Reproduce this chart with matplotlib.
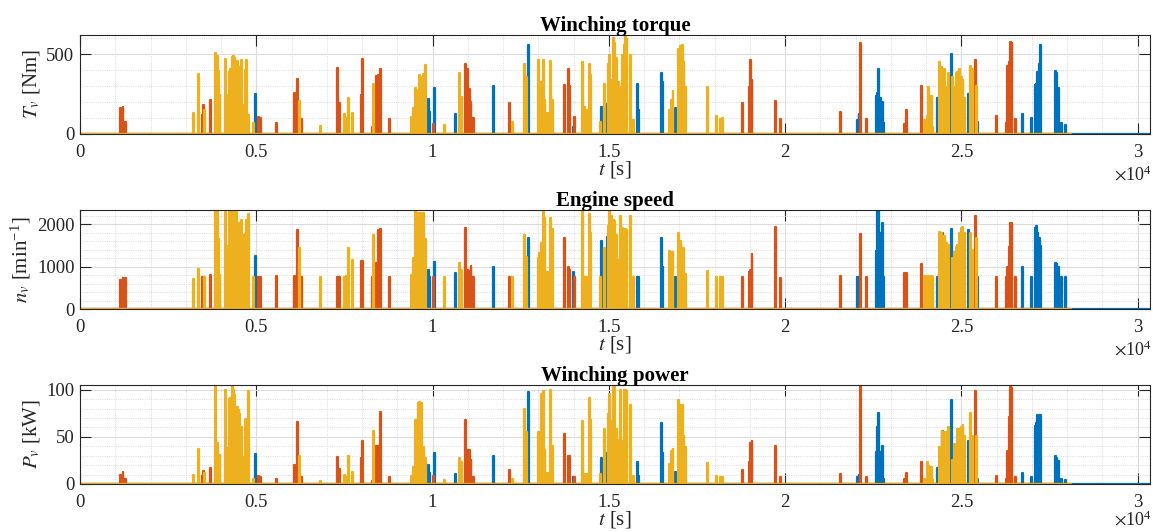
import numpy as np
import matplotlib
matplotlib.use('Agg')
import matplotlib.pyplot as plt
from matplotlib.ticker import MultipleLocator, FuncFormatter

plt.rcParams['font.family'] = 'serif'
plt.rcParams['font.serif'] = ['Liberation Serif', 'DejaVu Serif']
plt.rcParams['mathtext.fontset'] = 'stix'

# --- data: spike time [s] and peak value per panel ---
# torque T [Nm], engine speed n [1/min], power P [kW]

t_blue = [4970, 9875, 9923, 10065, 10660, 11720, 12715, 13990, 14790, 14960,
          15810, 15850, 16490, 16535, 16890, 22050, 22095, 22585, 22625, 22660,
          22700, 22750, 22795, 24310, 24475, 24725, 25205, 25470, 26745, 27000,
          27090, 27130, 27170, 27210, 27250, 27670, 27710, 27755, 27840, 27955]
T_blue = [248, 217, 140, 285, 123, 300, 560, 46, 171, 185,
          316, 150, 379, 327, 165, 87, 123, 237, 258, 404,
          223, 198, 71, 223, 300, 498, 248, 77, 123, 98,
          306, 316, 390, 441, 556, 394, 379, 285, 71, 56]
n_blue = [1247, 929, 754, 1112, 857, 993, 1667, 873, 1604, 1683,
          754, 754, 1667, 993, 754, 754, 754, 1366, 2318, 2318,
          1786, 2025, 754, 754, 1794, 1890, 1866, 754, 993, 754,
          1906, 1945, 1786, 1667, 1485, 1088, 1056, 993, 754, 754]
P_blue = [32, 20, 12, 32.6, 10.6, 30, 97.5, 7, 28, 32.6,
          23.8, 8.9, 64.5, 32.6, 12.4, 7, 9.6, 33.7, 60, 75,
          33.7, 40.8, 5.3, 16.7, 56.7, 89.4, 46, 5.3, 11.3, 7,
          61, 64.5, 73.4, 72.7, 72.7, 30, 27.3, 24.8, 5.3, 4.6]

t_orange = [1160, 1220, 1280, 3470, 3515, 3695, 5075, 5112, 5575, 6095,
            6160, 6285, 7296, 7352, 7985, 8013, 8296, 8420, 8468, 8515,
            8770, 10020, 10945, 10990, 11040, 11090, 11150, 12190, 13750, 13845,
            13895, 14035, 18780, 18980, 19015, 19060, 19730, 19875, 21580, 22140,
            22320, 23390, 23440, 23880, 25405, 25990, 26275, 26320, 26370, 26400,
            26435, 26530]
T_orange = [160, 167, 73, 120, 180, 212, 108, 98, 71, 254,
            342, 94, 415, 192, 244, 469, 46, 362, 369, 404,
            92, 60, 437, 406, 279, 200, 102, 192, 306, 406,
            300, 108, 192, 296, 462, 337, 206, 94, 140, 567,
            92, 60, 150, 300, 466, 115, 67, 427, 452, 577,
            573, 92]
n_orange = [690, 740, 740, 755, 755, 810, 754, 754, 778, 770,
            1850, 754, 754, 754, 1135, 1135, 754, 1088, 1850, 1882,
            754, 754, 1906, 913, 897, 1008, 754, 754, 1667, 977,
            929, 754, 754, 873, 913, 1294, 1922, 738, 770, 1763,
            754, 850, 850, 1048, 2199, 754, 754, 993, 1469, 2025,
            2025, 754]
P_orange = [10, 12.4, 5.3, 8.9, 13.5, 16.7, 8.9, 7.8, 5.3, 20,
            65.6, 7, 29, 16, 28, 46, 3.5, 40.8, 40.8, 76,
            7, 8, 68, 36, 36, 25, 7.8, 14.9, 53, 30,
            30, 7, 14.9, 23, 44, 46, 40.8, 7, 10.6, 104.6,
            7, 5.3, 11.3, 23.8, 98.6, 8.9, 5.3, 35.5, 71, 102.8,
            102, 7]

t_yellow = [3230, 3355, 3540, 3855, 3895, 3930, 3970, 4130, 4185, 4245,
            4270, 4320, 4345, 4395, 4430, 4460, 4500, 4535, 4593, 4650,
            4697, 4735, 4773, 4933, 6220, 6823, 7514, 7560, 7627, 7730,
            8335, 9400, 9450, 9517, 9565, 9610, 9640, 9687, 9735, 9810,
            10350, 10775, 10820, 12270, 12610, 12660, 13000, 13040, 13090, 13135,
            13190, 13260, 13345, 13400, 14250, 14320, 14365, 14440, 14480, 14760,
            14885, 14980, 15025, 15080, 15120, 15170, 15215, 15265, 15330, 15390,
            15435, 15480, 15515, 15610, 15690, 16730, 16775, 16820, 16965, 17040,
            17090, 17125, 17180, 17795, 18050, 18165, 18220, 23960, 24035, 24080,
            24140, 24195, 24390, 24450, 24525, 24590, 24640, 24760, 24815, 24855,
            24900, 24950, 25000, 25045, 25090, 25265, 25310, 25425]
T_yellow = [130, 375, 150, 505, 488, 396, 244, 469, 244, 390,
            410, 483, 490, 473, 431, 458, 421, 415, 462, 181,
            400, 462, 119, 71, 208, 50, 125, 98, 223, 133,
            312, 104, 160, 285, 192, 275, 369, 358, 375, 435,
            56, 385, 233, 73, 441, 358, 466, 316, 327, 462,
            212, 129, 458, 212, 452, 171, 150, 441, 369, 77,
            316, 441, 494, 341, 602, 567, 473, 327, 296, 494,
            560, 619, 598, 494, 87, 150, 212, 271, 535, 550,
            556, 452, 296, 292, 112, 92, 98, 87, 112, 296,
            240, 46, 452, 421, 406, 292, 385, 358, 296, 379,
            390, 410, 358, 337, 223, 427, 410, 300]
n_yellow = [700, 953, 755, 2318, 2318, 1643, 794, 2287, 1493, 2287,
            2303, 2104, 2318, 2025, 2287, 1906, 2025, 1707, 2104, 1747,
            1763, 2104, 2239, 754, 1445, 754, 754, 770, 1445, 1151,
            1731, 794, 1191, 2358, 1310, 2263, 2263, 2263, 2270, 1643,
            754, 1072, 929, 754, 1747, 1215, 1207, 1310, 1548, 2303,
            2144, 873, 2144, 1882, 2303, 754, 754, 2239, 1786, 754,
            1429, 1945, 2318, 2199, 2104, 2080, 1747, 1151, 2183, 1906,
            1850, 1880, 1850, 2199, 754, 1374, 1350, 1350, 1786, 1612,
            1445, 1445, 834, 889, 754, 754, 754, 770, 770, 770,
            770, 754, 1810, 1794, 1723, 1564, 1509, 1191, 1350, 1469,
            1509, 1794, 1906, 1922, 1786, 1786, 1390, 1667]
P_yellow = [9.6, 37, 11.3, 103.5, 44, 31, 31, 100, 38, 90,
            91, 103.5, 100, 94, 82, 81.5, 78, 74.5, 60, 29,
            68, 69, 99, 5.3, 30, 3.5, 9.6, 7.8, 30, 13,
            55.7, 8.9, 18.4, 67.4, 35.5, 85.8, 87, 85.8, 39.7, 28,
            4.6, 28, 23, 5.3, 79.8, 55, 55, 37, 95.7, 98.2,
            36, 12, 99.3, 40.8, 67, 10.6, 10.6, 91, 68, 10.6,
            58.5, 74.5, 95.7, 67, 104.6, 103.5, 58.5, 46.8, 100, 46,
            100, 99.3, 99, 83.3, 8.9, 21, 35.5, 37, 88.7, 83.3,
            83.3, 51.4, 39, 22, 8.9, 7.8, 7, 5.3, 23, 19.5,
            17.7, 4, 39.7, 56.7, 55, 55, 60, 25.5, 42.5, 42.5,
            58.5, 58.5, 60, 63, 51.4, 75, 51.4, 51.4]

t_end_blue = 30350
t_end_other = 28115

colors = {'blue': '#0072BD', 'orange': '#D95319', 'yellow': '#EDB120'}
dark = '#262626'


def pulses(t, h, t_end, w=13):
    # each recorded event is a short rectangular pulse on a zero baseline
    order = np.argsort(t)
    xs, ys = [0], [0]
    for i in order:
        xs += [t[i] - w, t[i] - w, t[i] + w, t[i] + w]
        ys += [0, h[i], h[i], 0]
    xs.append(t_end)
    ys.append(0)
    return xs, ys


# title, ylabel, series, ylim top, major step, minor step, axes top [px], x10^4 offset
panels = [
    ('Winching torque', r'$T_v$ [Nm]', (T_blue, T_orange, T_yellow), 620, 500, 100, 35, -0.31),
    ('Engine speed', r'$n_v$ [min$^{\mathregular{-1}}$]', (n_blue, n_orange, n_yellow), 2330, 1000, 200, 210, -0.31),
    ('Winching power', r'$P_v$ [kW]', (P_blue, P_orange, P_yellow), 105, 50, 10, 385, -0.265),
]

W, H = 1153, 532
fig = plt.figure(figsize=(W / 100, H / 100), dpi=100)

for title, ylab, (hb, ho, hy), ytop, ymaj, ymin, top_px, off_y in panels:
    ax = fig.add_axes([80 / W, 1 - (top_px + 99) / H, 1070 / W, 99 / H])
    for name, tt, hh, te in [('blue', t_blue, hb, t_end_blue),
                             ('orange', t_orange, ho, t_end_other),
                             ('yellow', t_yellow, hy, t_end_other)]:
        xs, ys = pulses(tt, hh, te)
        ax.plot(xs, ys, color=colors[name], lw=1.6)
    ax.set_xlim(0, 30350)
    ax.set_ylim(0, ytop)
    ax.xaxis.set_major_locator(MultipleLocator(5000))
    ax.xaxis.set_minor_locator(MultipleLocator(1000))
    ax.yaxis.set_major_locator(MultipleLocator(ymaj))
    ax.yaxis.set_minor_locator(MultipleLocator(ymin))
    ax.xaxis.set_major_formatter(FuncFormatter(lambda v, p: f'{v / 1e4:g}'))
    ax.grid(True, which='major', color='#dcdcdc', lw=0.8)
    ax.grid(True, which='minor', color='#cfcfcf', lw=0.6, ls=':')
    ax.set_axisbelow(True)
    ax.tick_params(which='major', direction='in', length=8, width=0.8,
                   top=True, right=True, labelsize=13.5, colors=dark)
    ax.tick_params(axis='x', which='major', pad=7)
    ax.tick_params(axis='y', which='major', pad=4)
    ax.tick_params(which='minor', length=0)
    for s in ax.spines.values():
        s.set_color(dark)
        s.set_linewidth(0.8)
    ax.set_title(title, fontsize=15, fontweight='bold', pad=3)
    ax.set_xlabel(r'$t$ [s]', fontsize=15, labelpad=-1, color=dark)
    ax.set_ylabel(ylab, fontsize=15, color=dark, labelpad=3)
    ax.text(1.002, off_y, r'$\times\mathregular{10}^{\mathregular{4}}$', transform=ax.transAxes,
            ha='right', va='top', fontsize=13, color=dark)

fig.savefig('out.png', dpi=100)
